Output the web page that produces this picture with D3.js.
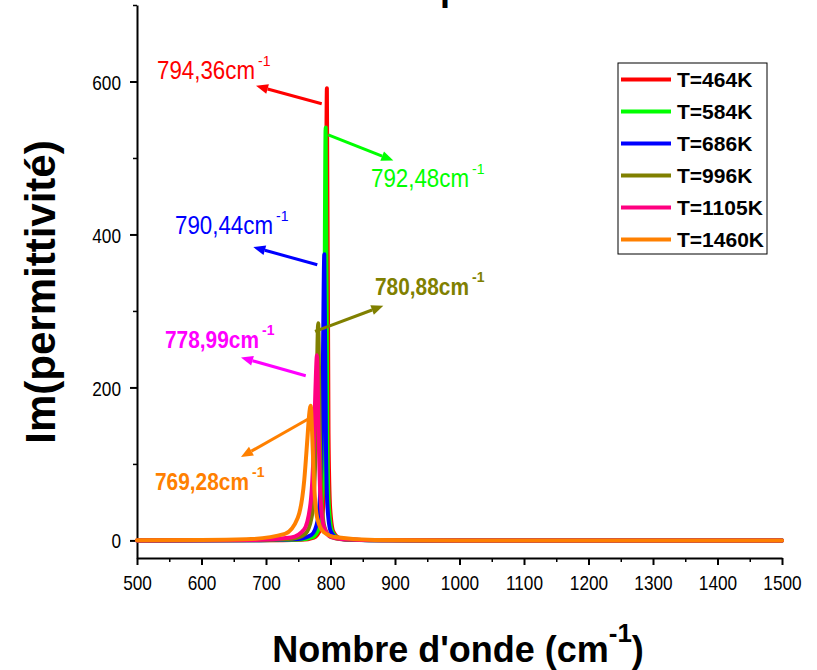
<!DOCTYPE html>
<html>
<head>
<meta charset="utf-8">
<script src="https://cdn.jsdelivr.net/npm/d3@7"></script>
<style>
  body { margin: 0; background: #fff; }
  svg { display: block; }
</style>
</head>
<body>
<svg id="chart" width="817" height="670"></svg>
<script>
// ---- data ----
const seriesNames = ["T=464K", "T=584K", "T=686K", "T=996K", "T=1105K", "T=1460K"];
const seriesColors = ["#ff0000", "#00ff00", "#0000ff", "#808000", "#ff0080", "#ff8000"];

// [wavenumber, Im(eps)] samples for each curve
const t464 = [[500,0],[694.4,0.2],[754.4,0.9],[774.4,3.8],[784.4,14.8],[789.4,54.9],[791.9,171.8],[794.4,591],[796.9,141],[799.4,42.9],[804.4,11.4],[814.4,2.9],[834.4,0.7],[894.4,0.1],[1000,0],[1500,0]];
const t584 = [[500,0],[692.5,0.2],[752.5,1.1],[772.5,4.3],[782.5,16.9],[787.5,61.9],[790,184.3],[792.5,540],[795,142.9],[797.5,44.6],[802.5,11.9],[812.5,3],[832.5,0.8],[892.5,0.1],[1000,0],[1500,0]];
const t686 = [[500,0],[690.4,0.3],[750.4,1.8],[770.4,7.2],[780.4,27.2],[785.4,89.3],[787.9,208.1],[790.4,374],[792.9,127.6],[795.4,42.9],[800.4,11.7],[810.4,3],[830.4,0.8],[890.4,0.1],[1000,0],[1500,0]];
const t996 = [[500,0],[680.9,0.4],[740.9,2.2],[760.9,8.4],[770.9,31],[775.9,93.4],[778.4,188.1],[780.9,284],[783.4,142],[785.9,56.8],[790.9,16.7],[800.9,4.4],[820.9,1.1],[880.9,0.2],[1000,0],[1500,0]];
const t1105 = [[500,0],[679,0.6],[739,3.7],[759,14.2],[769,48.4],[774,121],[776.5,193.6],[779,242],[781.5,142.9],[784,64],[789,20],[799,5.3],[819,1.4],[879,0.2],[1000,0],[1500,0]];
const t1460 = [[500,0.3],[600,0.5],[669.3,1.4],[729.3,8.5],[749.3,29.6],[759.3,78.8],[764.3,134.5],[766.8,163.4],[769.3,176],[771.8,134.5],[774.3,78.8],[779.3,29.6],[789.3,11],[809.3,4],[869.3,0.4],[1000,0],[1500,0]];
const curves = [t464, t584, t686, t996, t1105, t1460];

const xTicks = [500, 600, 700, 800, 900, 1000, 1100, 1200, 1300, 1400, 1500];
const xMinor = [550, 650, 750, 850, 950, 1050, 1150, 1250, 1350, 1450];
const yTicks = [0, 200, 400, 600];
const yMinor = [100, 300, 500, 700];

// peak annotations (data units)
const peakLabels = ["794,36", "792,48", "790,44", "780,88", "778,99", "769,28"];
const peakLabelColors = ["#ff0000", "#00ff00", "#0000ff", "#808000", "#ff00ff", "#ff8000"];
const peakLabelBold = [false, false, false, true, true, true];
const labelPos = [[531, 603.5], [862.8, 462.4], [558.9, 400.9], [869, 321.2], [543.4, 251.9], [527.9, 66.3]];
const arrowFrom = [[786.4, 570.8], [796.6, 530.3], [779.5, 360.4], [776, 273.2], [761.6, 215.3], [770.9, 161.3]];
const arrowTo = [[684.5, 594.4], [897.4, 496.7], [680.3, 383.5], [881.9, 306.8], [661.2, 239.2], [661.2, 109]];

// ---- chart ----
const FONT = "'Liberation Sans', Arial, Helvetica, sans-serif";
const svg = d3.select("#chart");
svg.append("rect").attr("width", 817).attr("height", 670).attr("fill", "#fff");

const x = d3.scaleLinear().domain([500, 1500]).range([137, 782]);
const y = d3.scaleLinear().domain([-23, 700]).range([558, 5]);
const narrow = 0.82;

// partly cropped title at the very top
svg.append("text").attr("x", 440).attr("y", 0)
  .attr("font-family", FONT).attr("font-weight", "bold").attr("font-size", 36)
  .text("p");

// x axis
svg.append("g").attr("transform", "translate(0,558)")
  .call(d3.axisBottom(x).tickValues(xMinor).tickSize(4).tickFormat(""))
  .call(g => g.select(".domain").remove())
  .call(g => g.selectAll("line").attr("stroke-width", 1.5));

const xAxis = svg.append("g").attr("transform", "translate(0,558)")
  .call(d3.axisBottom(x).tickValues(xTicks).tickSize(7).tickSizeOuter(0).tickFormat(d3.format("d")));
xAxis.select(".domain").attr("stroke-width", 2);
xAxis.selectAll("line").attr("stroke-width", 2);
xAxis.selectAll("text")
  .attr("font-family", FONT).attr("font-size", 21).attr("fill", "#000")
  .attr("y", 32).attr("dy", 0)
  .attr("transform", `scale(${narrow},1)`);

// y axis
svg.append("g").attr("transform", "translate(137,0)")
  .call(d3.axisLeft(y).tickValues(yMinor).tickSize(4).tickFormat(""))
  .call(g => g.select(".domain").remove())
  .call(g => g.selectAll("line").attr("stroke-width", 1.5));

const yAxis = svg.append("g").attr("transform", "translate(137,0)")
  .call(d3.axisLeft(y).tickValues(yTicks).tickSize(7).tickSizeOuter(0).tickFormat(d3.format("d")));
yAxis.select(".domain").attr("stroke-width", 2);
yAxis.selectAll("line").attr("stroke-width", 2);
yAxis.selectAll("text")
  .attr("font-family", FONT).attr("font-size", 21).attr("fill", "#000")
  .attr("x", -16 / narrow).attr("dy", "0.36em")
  .attr("transform", `scale(${narrow},1)`);

// axis titles
svg.append("text")
  .attr("transform", "translate(55,292) rotate(-90)")
  .attr("text-anchor", "middle")
  .attr("font-family", FONT).attr("font-weight", "bold").attr("font-size", 42)
  .text("Im(permittivité)");

const xt = svg.append("text")
  .attr("x", 458).attr("y", 662)
  .attr("text-anchor", "middle")
  .attr("font-family", FONT).attr("font-weight", "bold").attr("font-size", 36);
xt.append("tspan").text("Nombre d'onde (cm");
xt.append("tspan").attr("dy", -20).attr("font-size", 26).text("-1");
xt.append("tspan").attr("dy", 20).text(")");

// curves
const line = d3.line()
  .x(d => x(d[0]))
  .y(d => y(d[1]))
  .curve(d3.curveMonotoneX);

svg.append("g").selectAll("path")
  .data(curves)
  .join("path")
  .attr("d", line)
  .attr("fill", "none")
  .attr("stroke", (d, i) => seriesColors[i])
  .attr("stroke-width", 4)
  .attr("stroke-linejoin", "round")
  .attr("stroke-linecap", "round");

// peak annotations
const ann = svg.append("g");
peakLabels.forEach((lab, i) => {
  const c = peakLabelColors[i];
  const x1 = x(arrowFrom[i][0]), y1 = y(arrowFrom[i][1]);
  const x2 = x(arrowTo[i][0]), y2 = y(arrowTo[i][1]);
  const a = Math.atan2(y2 - y1, x2 - x1);
  const L = 12, W = 5;
  const bx = x2 - L * Math.cos(a), by = y2 - L * Math.sin(a);
  ann.append("line")
    .attr("x1", x1).attr("y1", y1).attr("x2", bx).attr("y2", by)
    .attr("stroke", c).attr("stroke-width", 3);
  ann.append("polygon")
    .attr("points", [
      [x2, y2],
      [bx + W * Math.sin(a), by - W * Math.cos(a)],
      [bx - W * Math.sin(a), by + W * Math.cos(a)]
    ].map(p => p.join(",")).join(" "))
    .attr("fill", c);

  const tx = x(labelPos[i][0]), ty = y(labelPos[i][1]);
  const bold = peakLabelBold[i];
  const len = bold ? 94 : 98;
  const t = ann.append("text")
    .attr("x", tx).attr("y", ty)
    .attr("font-family", FONT)
    .attr("font-weight", bold ? "bold" : "normal")
    .attr("fill", c);
  t.append("tspan")
    .attr("font-size", bold ? 24 : 26)
    .attr("textLength", len).attr("lengthAdjust", "spacingAndGlyphs")
    .text(lab + "cm");
  t.append("tspan")
    .attr("x", tx + len + 3).attr("dy", -13)
    .attr("font-size", 14)
    .text("-1");
});

// legend
const legend = svg.append("g");
legend.append("rect")
  .attr("x", 618).attr("y", 63).attr("width", 149).attr("height", 191)
  .attr("fill", "#fff").attr("stroke", "#000").attr("stroke-width", 1);
const rows = legend.selectAll("g.row")
  .data(seriesNames)
  .join("g")
  .attr("class", "row")
  .attr("transform", (d, i) => `translate(621,${79.5 + i * 32})`);
rows.append("line")
  .attr("x1", 0).attr("x2", 50)
  .attr("stroke", (d, i) => seriesColors[i]).attr("stroke-width", 4);
rows.append("text")
  .attr("x", 56).attr("y", 7.5)
  .attr("font-family", FONT).attr("font-weight", "bold").attr("font-size", 21)
  .text(d => d);
</script>
</body>
</html>
